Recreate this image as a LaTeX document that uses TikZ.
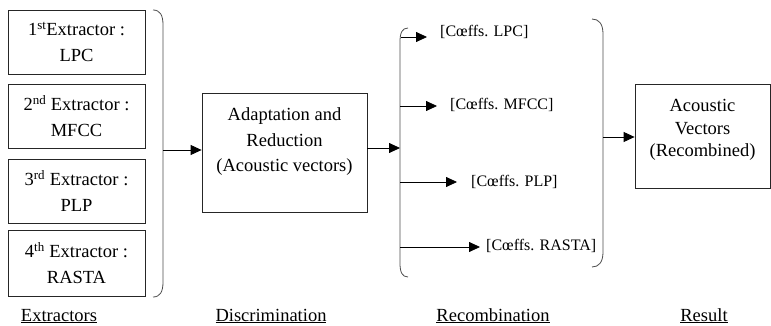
\documentclass[tikz,border=0pt]{standalone}
\usepackage{fontspec}
\setmainfont{Liberation Serif}
\usetikzlibrary{arrows.meta}
\begin{document}
\begin{tikzpicture}[x=1pt,y=-1pt,
  box/.style={draw=black!85,line width=0.8pt,inner sep=0pt,align=center,
    font=\fontsize{18.5}{25.5}\selectfont},
  coef/.style={inner sep=0pt,anchor=base west,font=\fontsize{16}{19}\selectfont},
  caption/.style={inner sep=0pt,anchor=base,font=\fontsize{18.5}{22}\selectfont},
  arr/.style={line width=0.8pt,-{Triangle[length=11pt,width=10pt]}},
  paren/.style={draw=black!70,line width=0.8pt}]
\useasboundingbox (0,0) rectangle (771,326);
% extractors
\node[box,minimum width=137pt,minimum height=64pt] (e1) at (76.5,42) {1\textsuperscript{st}Extractor :\\LPC};
\node[box,minimum width=137pt,minimum height=64pt] (e2) at (76.5,116) {2\textsuperscript{nd} Extractor :\\MFCC};
\node[box,minimum width=137pt,minimum height=64pt] (e3) at (76.5,191) {3\textsuperscript{rd} Extractor :\\PLP};
\node[box,minimum width=137pt,minimum height=66pt] (e4) at (76.5,263) {4\textsuperscript{th} Extractor :\\RASTA};
\draw[paren] (153,10) .. controls (160,10) and (163,15) .. (163,25) -- (163,282) .. controls (163,292) and (160,297) .. (153,297);
\coordinate (bx) at (163,150);
% adaptation
\node[box,minimum width=165pt,minimum height=119pt] (adapt) at (284.5,152.5) {Adaptation and\\Reduction\\(Acoustic vectors)\\[0pt]~};
\draw[arr] (bx) -- (adapt.west |- bx);
% recombination
\draw[paren] (408,28) .. controls (402,28) and (400,33) .. (400,42) -- (400,263) .. controls (400,272) and (402,277) .. (408,277);
\coordinate (lp) at (400,148);
\draw[arr] (adapt.east |- lp) -- (lp);
\node[coef] (c1) at (440,37) {[Cœffs. LPC]};
\node[coef] (c2) at (450,110) {[Cœffs. MFCC]};
\node[coef] (c3) at (471,186) {[Cœffs. PLP]};
\node[coef] (c4) at (486,250) {[Cœffs. RASTA]};
\coordinate (l1) at (401,37);
\coordinate (l2) at (400,106);
\coordinate (l3) at (400,182);
\coordinate (l4) at (400,247);
\draw[arr,shorten >=13pt] (l1) -- (c1.west |- l1);
\draw[arr,shorten >=13pt] (l2) -- (c2.west |- l2);
\draw[arr,shorten >=14pt] (l3) -- (c3.west |- l3);
\draw[arr,shorten >=6pt] (l4) -- (c4.west |- l4);
\draw[paren] (592,19) .. controls (599,19) and (603,24) .. (603,34) -- (603,252) .. controls (603,262) and (599,267) .. (592,267);
\coordinate (rp) at (603,137);
% result
\node[box,minimum width=135pt,minimum height=104pt] (result) at (702.5,136) {};
\node[inner sep=0pt,align=center,font=\fontsize{18.5}{22.5}\selectfont] (restext) at (702.5,130) {Acoustic\\Vectors\\(Recombined)};
\draw[arr] (rp) -- (result.west |- rp);
% captions
\node[caption] (t1) at (59,321) {\underline{Extractors}};
\node[caption] (t2) at (271,321) {\underline{Discrimination}};
\node[caption] (t3) at (493,321) {\underline{Recombination}};
\node[caption] (t4) at (704,321) {\underline{Result}};
\end{tikzpicture}
\end{document}
